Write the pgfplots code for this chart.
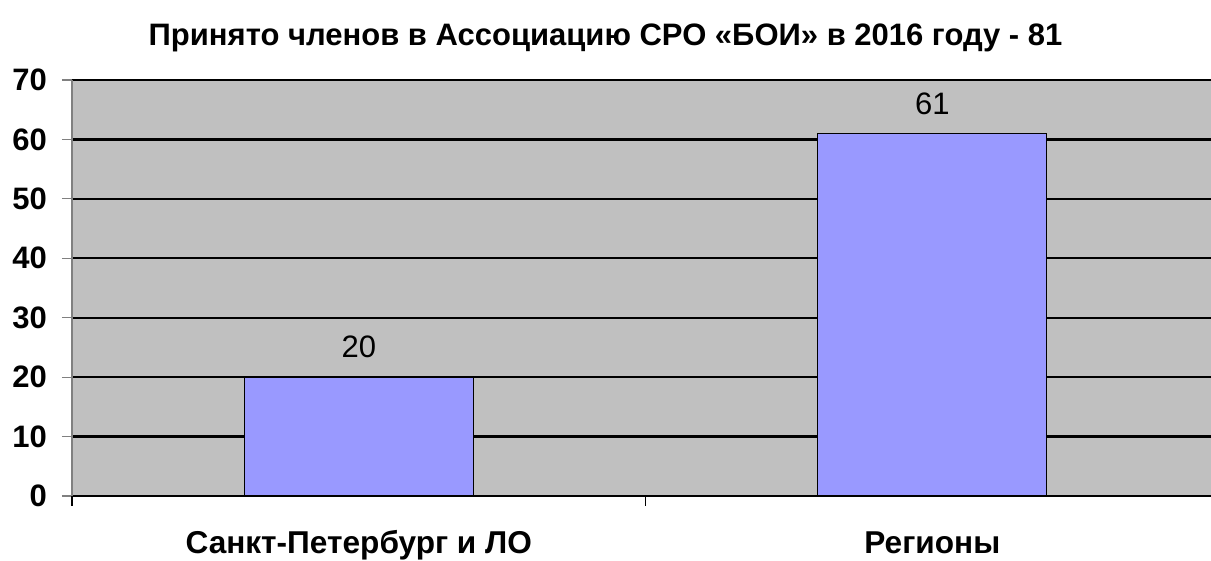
\documentclass[border=0pt]{standalone}
\usepackage{fontspec}
\setmainfont{Liberation Sans}
\usepackage{pgfplots}
\pgfplotsset{compat=1.18}
\definecolor{plotbg}{HTML}{C0C0C0}
\definecolor{barfill}{HTML}{9999FF}
\definecolor{axgray}{HTML}{808080}
\begin{document}
\begin{tikzpicture}
\begin{axis}[
  at={(36pt,32.5pt)}, anchor=south west,
  width=569.5pt, height=208pt, scale only axis,
  xmin=-0.5, xmax=1.486, ymin=0, ymax=70,
  axis x line*=bottom, axis y line*=left,
  axis background/.style={fill=plotbg},
  y axis line style={draw=axgray, line width=0.6pt},
  x axis line style={draw=black, line width=0.8pt},
  ytick={0,10,...,70},
  ymajorgrids, grid style={black, line width=1.1pt},
  major tick length=5pt,
  tick align=outside,
  ytick style={draw=axgray, line width=0.6pt},
  xtick={0,1}, xticklabels={Санкт-Петербург и ЛО, Регионы},
  xtick style={draw=none},
  extra x ticks={-0.5,0.5},
  extra x tick labels={},
  extra x tick style={xtick style={draw=black, line width=0.6pt}, grid=none},
  /pgf/number format/assume math mode=true,
  yticklabel style={font=\fontsize{15.5}{18}\selectfont\bfseries, xshift=-4pt},
  xticklabel style={font=\fontsize{15.8}{18}\selectfont\bfseries, anchor=base, yshift=-24pt},
  ybar, bar width=0.4,
  nodes near coords,
  every node near coord/.append style={font=\fontsize{15.5}{18}\selectfont, yshift=6pt},
  clip=false,
]
\addplot[fill=barfill, draw=black, line width=0.5pt] coordinates {(0,20) (1,61)};
\end{axis}
\node[font=\fontsize{15.5}{18}\selectfont\bfseries] at (302.75pt,261.5pt) {Принято членов в Ассоциацию СРО «БОИ» в 2016 году - 81};
\pgfresetboundingbox
\path[use as bounding box] (0pt,0pt) rectangle (605.5pt,280.5pt);
\end{tikzpicture}
\end{document}
